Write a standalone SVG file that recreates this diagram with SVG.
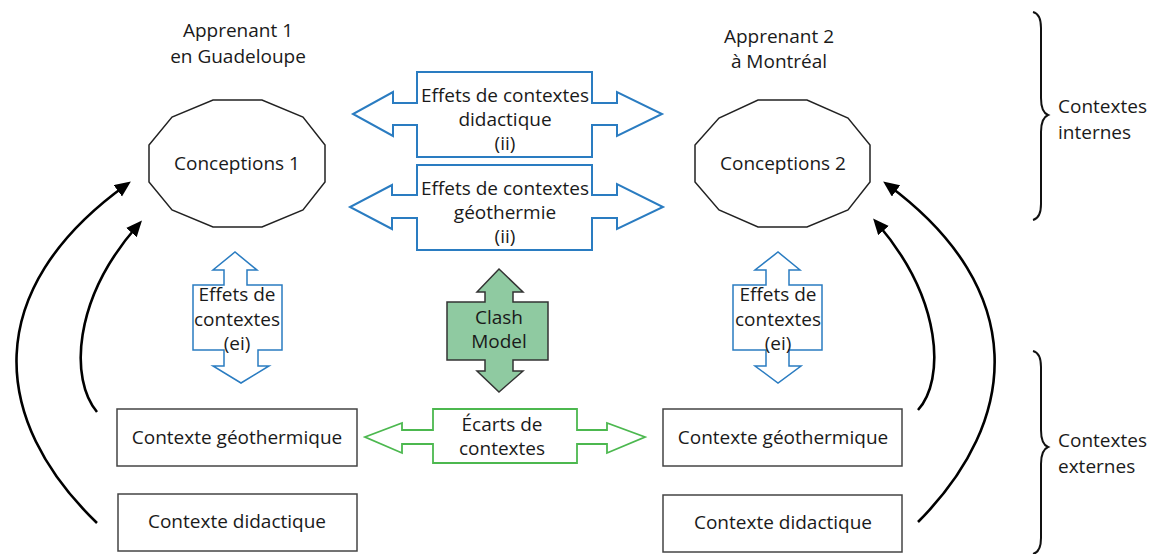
<svg xmlns="http://www.w3.org/2000/svg" width="1153" height="554" viewBox="0 0 1153 554">
<defs>
<style>
text{font-family:"Open Sans","Noto Sans","Liberation Sans",sans-serif;font-size:19px;fill:#1a1a1a;}
.c{text-anchor:middle;}
.poly{fill:#fff;stroke:#222;stroke-width:1.5;}
.box{fill:#fff;stroke:#444;stroke-width:1.5;}
.blue{fill:#fff;stroke:#2a7cc1;stroke-width:2;stroke-linejoin:miter;}
.bluethin{fill:#fff;stroke:#2a7cc1;stroke-width:1.5;}
.green{fill:#fff;stroke:#4cb84f;stroke-width:1.8;}
.clash{fill:#8fcaa1;stroke:#333;stroke-width:1.5;}
.curve{fill:none;stroke:#000;stroke-width:2.6;marker-end:url(#ah);}
.brace{fill:none;stroke:#111;stroke-width:2;}
</style>
<marker id="ah" markerUnits="userSpaceOnUse" markerWidth="18" markerHeight="16" refX="10" refY="7" orient="auto">
<path d="M0,0 L16,7 L0,14 z" fill="#000"/>
</marker>
</defs>

<g id="labels">
<text class="c" x="238" y="37">Apprenant 1</text>
<text class="c" x="238" y="63">en Guadeloupe</text>
<text class="c" x="779" y="43">Apprenant 2</text>
<text class="c" x="779" y="68">à Montréal</text>
</g>

<g id="conceptions1">
<polygon class="poly" points="213,100 262,100 303,117 325,145 325,182 303,210 262,227 213,227 172,210 149,182 149,145 172,117"/>
<text class="c" x="237" y="170">Conceptions 1</text>
</g>

<g id="conceptions2">
<polygon class="poly" points="758,100 807,100 848,118 870,145 870,182 848,210 807,227 758,227 719,210 695,182 695,145 719,118"/>
<text class="c" x="783" y="170">Conceptions 2</text>
</g>

<g id="effets-didactique">
<path class="blue" d="M417,72 H592 V103 H617 V92 L662,114 L617,136 V125 H592 V157 H417 V125 H393 V136 L353,114 L393,92 V103 H417 Z"/>
<text class="c" x="505" y="102">Effets de contextes</text>
<text class="c" x="505" y="126">didactique</text>
<text class="c" x="505" y="150">(ii)</text>
</g>

<g id="effets-geothermie">
<path class="blue" d="M417,165 H592 V195 H617 V184 L663,207 L617,229 V218 H592 V250 H417 V218 H392 V229 L350,207 L392,185 V195 H417 Z"/>
<text class="c" x="505" y="195">Effets de contextes</text>
<text class="c" x="505" y="219">géothermie</text>
<text class="c" x="505" y="243">(ii)</text>
</g>

<g id="effets-ei-1">
<path class="bluethin" d="M193,285 H224 V270 H213 L235,252 L257,270 H247 V285 H282 V350 H258 V366 H269 L241,383 L213,366 H224 V350 H193 Z"/>
<text class="c" x="237" y="301">Effets de</text>
<text class="c" x="237" y="326">contextes</text>
<text class="c" x="237" y="350">(ei)</text>
</g>

<g id="effets-ei-2">
<path class="bluethin" d="M733,285 H766 V270 H755 L778,252 L800,270 H789 V285 H822 V350 H789 V366 H801 L778,383 L755,366 H766 V350 H733 Z"/>
<text class="c" x="778" y="301">Effets de</text>
<text class="c" x="778" y="326">contextes</text>
<text class="c" x="778" y="350">(ei)</text>
</g>

<g id="clash-model">
<path class="clash" d="M447,302 H485 V292 H477 L499,269 L523,292 H513 V302 H548 V360 H513 V371 H523 L499,392 L477,371 H485 V360 H447 Z"/>
<text class="c" x="499" y="324">Clash</text>
<text class="c" x="499" y="348">Model</text>
</g>

<g id="ecarts">
<path class="green" d="M433,409 H577 V430 H607 V423 L645,437 L607,453 V444 H577 V463 H433 V444 H402 V453 L365,437 L402,423 V430 H433 Z"/>
<text class="c" x="502" y="431">Écarts de</text>
<text class="c" x="502" y="455">contextes</text>
</g>

<g id="geo1">
<rect class="box" x="117" y="409" width="240" height="57"/>
<text class="c" x="237" y="444">Contexte géothermique</text>
</g>
<g id="did1">
<rect class="box" x="118" y="494" width="239" height="57"/>
<text class="c" x="237" y="528">Contexte didactique</text>
</g>
<g id="geo2">
<rect class="box" x="663" y="409" width="239" height="57"/>
<text class="c" x="783" y="444">Contexte géothermique</text>
</g>
<g id="did2">
<rect class="box" x="663" y="495" width="239" height="57"/>
<text class="c" x="783" y="529">Contexte didactique</text>
</g>

<g id="connectors">
<path class="curve" d="M97,523 C-10,420 -20,290 126,185"/>
<path class="curve" d="M97,412 C70,380 72,300 138,225"/>
<path class="curve" d="M918,410 C945,380 943,300 877,223"/>
<path class="curve" d="M918,522 C1020,420 1030,290 888,185"/>
</g>

<g id="brace-internes">
<path class="brace" d="M1033,12 Q1041,14 1041,28 V98 Q1041,112 1048,115 Q1041,118 1041,132 V204 Q1041,218 1033,220"/>
<text x="1058" y="113">Contextes</text>
<text x="1058" y="139">internes</text>
</g>

<g id="brace-externes">
<path class="brace" d="M1033,351 Q1041,353 1041,367 V430 Q1041,444 1048,447 Q1041,450 1041,464 V538 Q1041,552 1033,554"/>
<text x="1058" y="447">Contextes</text>
<text x="1058" y="473">externes</text>
</g>
</svg>
